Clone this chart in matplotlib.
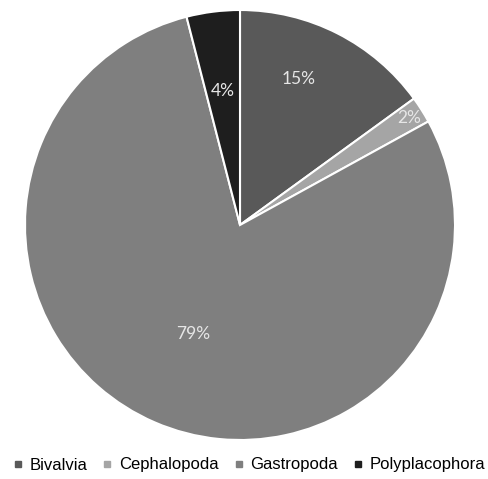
import numpy as np
import matplotlib
matplotlib.use("Agg")
import matplotlib.pyplot as plt
from matplotlib.lines import Line2D

classes = ["Bivalvia", "Cephalopoda", "Gastropoda", "Polyplacophora"]
shares = [15, 2, 79, 4]
colors = ["#595959", "#a5a5a5", "#7f7f7f", "#1e1e1e"]
# how far out each label sits, as a fraction of the radius
label_r = [0.73, 0.93, 0.55, 0.63]

fig = plt.figure(figsize=(4.89, 4.79), dpi=100)
ax = fig.add_axes([25 / 489, 39 / 479, 430 / 489, 430 / 479])

wedges, _ = ax.pie(shares, colors=colors, startangle=90, counterclock=False,
                   wedgeprops=dict(edgecolor="white", linewidth=1.5))
ax.set_aspect("equal")
ax.set_xlim(-1, 1)
ax.set_ylim(-1, 1)

total = sum(shares)
for w, val, r in zip(wedges, shares, label_r):
    mid = np.deg2rad((w.theta1 + w.theta2) / 2)
    # excel-style labels sit a little toward the slice start
    if val == 15:
        mid += np.deg2rad(5)
    ax.text(r * np.cos(mid), r * np.sin(mid), f"{val / total:.0%}",
            ha="center", va="center", color="#e6e6e6", fontsize=12.5,
            family="Lato")

handles = [Line2D([], [], marker="s", linestyle="none", markersize=5,
                  markerfacecolor=c, markeredgecolor=c) for c in colors]
fig.legend(handles, classes, loc="center", bbox_to_anchor=(0.511, 14 / 479),
           ncol=4, frameon=False, handletextpad=0.5,
           columnspacing=1.0, handlelength=0.4,
           prop=dict(family="Liberation Sans", size=12))

fig.savefig("out.png", dpi=100, facecolor="white")
